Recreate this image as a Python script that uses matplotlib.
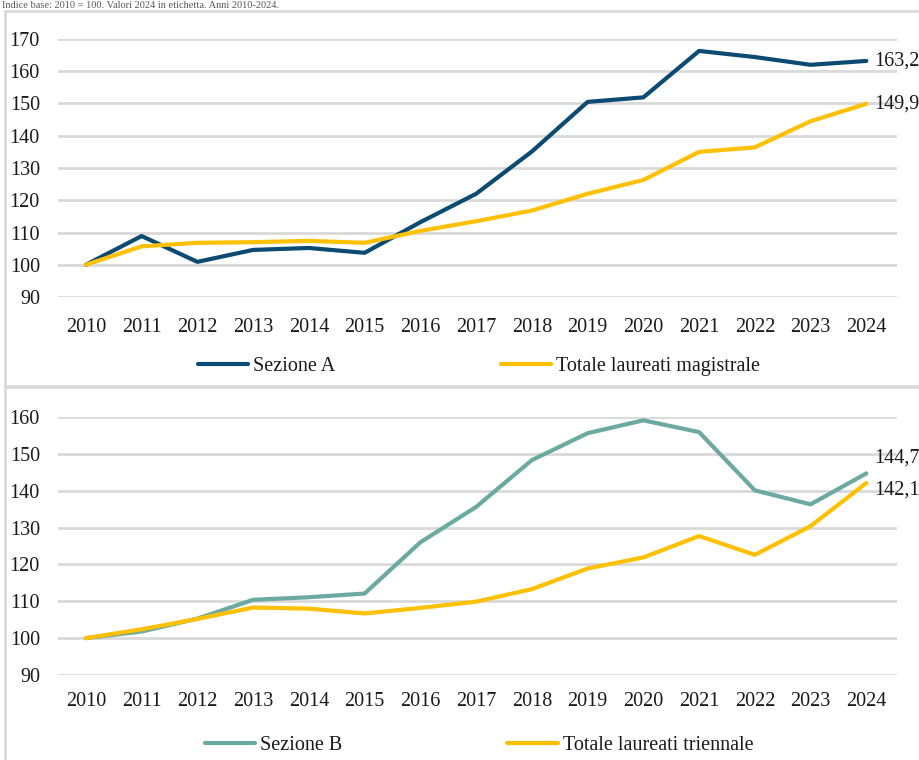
import matplotlib
matplotlib.use("Agg")
import matplotlib.pyplot as plt
from matplotlib.patches import Rectangle

plt.rcParams['font.family'] = ['Liberation Serif', 'DejaVu Serif']

years = list(range(2010, 2025))
sezione_a = [100, 108.9, 100.9, 104.6, 105.2, 103.7, 113.2, 122.0, 135.1, 150.5, 151.9, 166.3, 164.4, 162.0, 163.2]
totale_magistrale = [100, 105.7, 106.8, 107.0, 107.4, 106.8, 110.5, 113.5, 116.8, 122.0, 126.3, 135.0, 136.4, 144.5, 149.9]
sezione_b = [100, 101.8, 105.3, 110.4, 111.1, 112.1, 126.0, 135.6, 148.3, 155.6, 159.1, 155.9, 140.1, 136.3, 144.7]
totale_triennale = [100, 102.4, 105.2, 108.3, 108.0, 106.7, 108.2, 109.9, 113.3, 118.9, 121.9, 127.7, 122.6, 130.4, 142.1]
labels_top = ["163,2", "149,9"]
labels_bottom = ["144,7", "142,1"]
legend_top = ["Sezione A", "Totale laureati magistrale"]
legend_bottom = ["Sezione B", "Totale laureati triennale"]
title = "Indice base: 2010 = 100. Valori 2024 in etichetta. Anni 2010-2024."

c_a = "#0B4A72"
c_b = "#6BA9A1"
c_y = "#FFC000"
grid_c = "#D9D9D9"
W, H = 920, 760

fig = plt.figure(figsize=(9.2, 7.6), dpi=100)

def fx(px):
    return px / W

def fy(py):
    return 1 - py / H

# panel frames
fig.add_artist(Rectangle((fx(5), fy(386)), fx(930), fy(11) - fy(386), transform=fig.transFigure,
                         fill=False, edgecolor=grid_c, lw=2))
fig.add_artist(Rectangle((fx(5), fy(800)), fx(930), fy(387) - fy(800), transform=fig.transFigure,
                         fill=False, edgecolor=grid_c, lw=2))
fig.text(fx(2), fy(8), title, fontsize=7.5, color="#595959", va="baseline", ha="left")

def panel(top_px, bot_px, s1, s2, c1, ymax, labels, legs, leg_y, offsets, xpad):
    ax = fig.add_axes([fx(58), fy(bot_px), fx(897 - 58), fy(top_px) - fy(bot_px)])
    l1, = ax.plot(years, s1, color=c1, lw=3, solid_capstyle="round", zorder=3)
    l2, = ax.plot(years, s2, color=c_y, lw=3, solid_capstyle="round", zorder=3)
    ax.set_xlim(2009.5, 2024.55)
    ax.set_ylim(90, ymax)
    ax.set_yticks(range(90, ymax + 1, 10))
    ax.set_xticks(years)
    ax.grid(axis="y", color=grid_c, lw=2)
    ax.set_axisbelow(True)
    for sp in ax.spines.values():
        sp.set_visible(False)
    ax.tick_params(axis="both", length=0, labelsize=14.5, colors="#1a1a1a")
    ax.tick_params(axis="y", pad=13)
    ax.tick_params(axis="x", pad=xpad)
    for s, lab, off in zip([s1, s2], labels, offsets):
        ax.annotate(lab, (years[-1], s[-1]), xytext=(6, off), textcoords="offset points",
                    ha="left", va="center", fontsize=14.5, color="#1a1a1a", annotation_clip=False)
    fig.legend([l1, l2], legs, loc="center", bbox_to_anchor=(fx(479), fy(leg_y)), ncol=2,
               frameon=False, fontsize=14.5, handlelength=2.5, handletextpad=0.25,
               columnspacing=8.2, labelcolor="#1a1a1a")
    return ax

panel(39, 297, sezione_a, totale_magistrale, c_a, 170, labels_top, legend_top, 366, [0, 0], 15)
panel(417, 675, sezione_b, totale_triennale, c_b, 160, labels_bottom, legend_bottom, 745, [11, -5], 12)

fig.savefig("out.png", dpi=100)
